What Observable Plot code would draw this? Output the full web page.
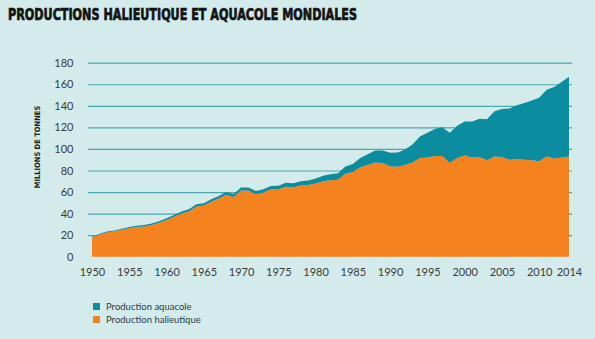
<!DOCTYPE html>
<html><head><meta charset="utf-8">
<script src="https://cdn.jsdelivr.net/npm/d3@7"></script>
<script src="https://cdn.jsdelivr.net/npm/@observablehq/plot@0.6"></script>
<style>
html,body{margin:0;padding:0;background:#d4ebeb;}
#wrap{position:relative;width:595px;height:339px;background:#d4ebeb;overflow:hidden;}
#chart{position:absolute;left:0;top:30px;}
#overlay{position:absolute;left:0;top:0;pointer-events:none;}
</style>
</head><body>
<div id="wrap"><div id="chart"></div><svg id="overlay" width="595" height="339"></svg></div>
<script>
const titleText = "PRODUCTIONS HALIEUTIQUE ET AQUACOLE MONDIALES";
const yLabel = "MILLIONS DE TONNES";
const seriesNames = ["Production halieutique", "Production aquacole"];
const seriesColors = ["#f4821f", "#0b8c9f"];
const legendOrder = ["Production aquacole", "Production halieutique"];
const years = d3.range(1950, 2015);
const halieutique = [
  18, 20.5, 22.5, 23.5, 25, 26.5, 27.5, 28, 29.5, 31.5,
  34, 37, 40, 42, 46.5, 47.5, 51, 54, 57.5, 55.5,
  61.5, 61.5, 58, 59.5, 62.5, 62.5, 65, 64.5, 66, 66.5,
  68, 70, 71, 71.5, 77, 78.5, 83, 85, 87.5, 87,
  84, 83.5, 85, 87.5, 91.5, 92, 93.5, 93.5, 87, 91.5,
  94, 92, 92.5, 89.5, 93, 92.5, 90, 90.5, 90, 89.5,
  88.5, 93, 91, 92, 93
];
const aquacole = [
  0.6, 0.7, 0.8, 0.9, 1.0, 1.1, 1.2, 1.3, 1.4, 1.5,
  1.7, 1.8, 1.9, 2.0, 2.1, 2.2, 2.3, 2.4, 2.5, 2.6,
  2.7, 2.8, 2.9, 3.0, 3.1, 3.3, 3.5, 3.7, 4.0, 4.3,
  4.6, 5.0, 5.5, 6.0, 6.8, 7.5, 8.5, 10, 11, 11.5,
  12.5, 13.2, 14.5, 16.5, 20, 23, 25, 26.5, 28, 30,
  31.5, 33.5, 35.5, 38, 42, 44.5, 47.5, 50, 52.5, 55.5,
  59, 62, 66.5, 70, 74
];
const xTicks = [1950, 1955, 1960, 1965, 1970, 1975, 1980, 1985, 1990, 1995, 2000, 2005, 2010, 2014];
const yTicks = [0, 20, 40, 60, 80, 100, 120, 140, 160, 180];
const gridTicks = [20, 40, 60, 80, 100, 120, 140, 160, 180];

const rows = [
  ...years.map((year, i) => ({year, series: seriesNames[0], value: halieutique[i]})),
  ...years.map((year, i) => ({year, series: seriesNames[1], value: aquacole[i]}))
];

const chart = Plot.plot({
  width: 595, height: 250,
  marginTop: 32.7, marginBottom: 23.3, marginLeft: 92, marginRight: 26,
  style: {background: "transparent", fontFamily: "Lato, sans-serif", fontSize: "11px", color: "#3a3a3a"},
  x: {domain: [1950, 2014], ticks: xTicks, tickFormat: d => String(d), tickSize: 0, tickPadding: 11, label: null},
  y: {domain: [0, 180], ticks: yTicks, tickSize: 0, tickPadding: 19, label: null},
  color: {domain: seriesNames, range: seriesColors},
  marks: [
    Plot.ruleY(gridTicks, {stroke: "#4aa6af", strokeWidth: 1.2, insetLeft: -4, insetRight: -3}),
    Plot.areaY(rows, {x: "year", y: "value", z: "series", fill: "series", curve: "linear"})
  ]
});
document.getElementById("chart").appendChild(chart);

const ov = d3.select("#overlay");
ov.append("text").attr("x", 8).attr("y", 20)
  .attr("font-family", "'DejaVu Sans Condensed', 'DejaVu Sans', sans-serif")
  .attr("font-weight", "bold").attr("font-size", 16)
  .attr("textLength", 349).attr("lengthAdjust", "spacingAndGlyphs")
  .attr("fill", "#141414").attr("stroke", "#141414").attr("stroke-width", 0.7)
  .text(titleText);
ov.append("text").attr("transform", "translate(40,147) rotate(-90)")
  .attr("text-anchor", "middle")
  .attr("font-family", "'DejaVu Sans Condensed', sans-serif").attr("font-weight", "bold")
  .attr("font-size", 7.5).attr("fill", "#1e1e1e").text(yLabel);
const colorOf = n => seriesColors[seriesNames.indexOf(n)];
legendOrder.forEach((name, i) => {
  const y = 303 + i * 13;
  ov.append("rect").attr("x", 93).attr("y", y).attr("width", 7).attr("height", 7).attr("fill", colorOf(name));
  ov.append("text").attr("x", 106).attr("y", y + 6.5)
    .attr("font-family", "Lato, sans-serif").attr("font-size", 9.5)
    .attr("fill", "#2b3a45").text(name);
});
</script>
</body></html>
